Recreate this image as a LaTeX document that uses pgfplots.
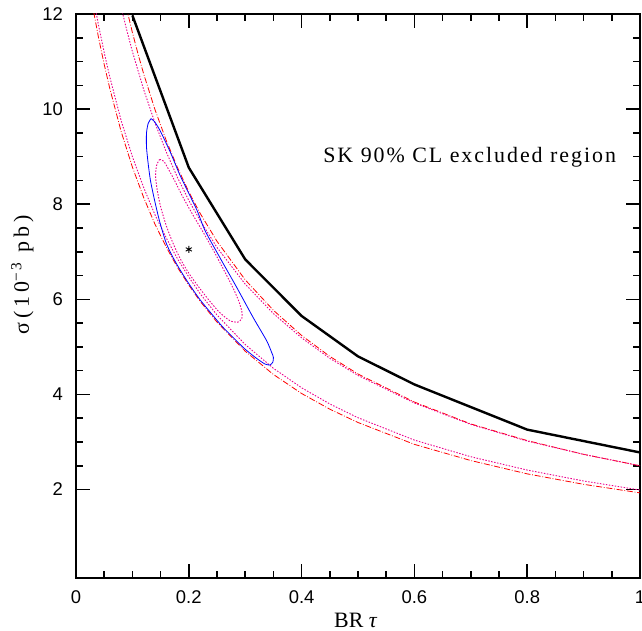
\documentclass[border=0pt]{standalone}
\usepackage{fontspec}
\setmainfont{Liberation Serif}
\newfontfamily\ticksans{Liberation Sans}
\usepackage{pgfplots}
\pgfplotsset{compat=1.18}

% upper and lower bands: red = dash-dot, magenta = dotted
\pgfplotstableread{
x      y
0.085  12.36
0.09   12.10
0.10   11.61
0.11   11.16
0.12   10.74
0.14   9.99
0.16   9.34
0.18   8.77
0.20   8.26
0.22   7.81
0.25   7.22
0.30   6.41
0.35   5.77
0.40   5.24
0.45   4.80
0.50   4.43
0.60   3.84
0.70   3.38
0.80   3.03
0.90   2.74
1.00   2.50
}\redup
\pgfplotstableread{
x      y
0.075  12.41
0.08   12.15
0.09   11.66
0.10   11.21
0.12   10.41
0.14   9.71
0.16   9.10
0.18   8.56
0.20   8.08
0.22   7.66
0.25   7.09
0.30   6.32
0.35   5.70
0.40   5.19
0.45   4.76
0.50   4.40
0.60   3.82
0.70   3.37
0.80   3.02
0.90   2.74
1.00   2.50
}\magup
\pgfplotstableread{
x      y
0.025  12.47
0.03   12.13
0.04   11.50
0.05   10.94
0.06   10.43
0.08   9.53
0.10   8.78
0.12   8.14
0.14   7.58
0.16   7.10
0.18   6.67
0.20   6.30
0.22   5.96
0.25   5.52
0.30   4.91
0.35   4.42
0.40   4.02
0.45   3.69
0.50   3.41
0.60   2.95
0.70   2.61
0.80   2.33
0.90   2.11
1.00   1.93
}\redlo
\pgfplotstableread{
x      y
0.03   12.39
0.035  12.07
0.04   11.76
0.05   11.19
0.06   10.67
0.08   9.76
0.10   9.00
0.12   8.35
0.14   7.78
0.16   7.29
0.18   6.85
0.20   6.47
0.22   6.12
0.25   5.67
0.30   5.05
0.35   4.55
0.40   4.14
0.45   3.80
0.50   3.51
0.60   3.04
0.70   2.69
0.80   2.41
0.90   2.18
1.00   1.99
}\maglo

\begin{document}
\begin{tikzpicture}
\useasboundingbox (-76bp,-53bp) rectangle (566bp,578bp);
\begin{axis}[
  scale only axis,
  width=564bp, height=564bp,
  xmin=0, xmax=1, ymin=0.14, ymax=12,
  xtick={0,0.2,...,1}, minor x tick num=3,
  ytick={2,4,...,12}, minor y tick num=3,
  tick align=inside,
  axis line style={line width=2.5bp},
  every tick/.style={black, line width=1.5bp},
  major tick length=14bp, minor tick length=7bp,
  xtick pos=both, ytick pos=both,
  /pgf/number format/assume math mode=true,
  ticklabel style={font=\ticksans\fontsize{18.5}{18.5}\selectfont, inner sep=0pt},
  xticklabel style={anchor=north, yshift=-12.5bp},
  yticklabel style={anchor=east, xshift=-13bp},
  xlabel={BR \textit{τ}},
  ylabel={\addfontfeature{LetterSpace=18}σ(10\textsuperscript{−3} pb)},
  label style={font=\fontsize{22}{22}\selectfont},
  x label style={at={(axis description cs:0.496,-0.0745)}, anchor=center},
  y label style={at={(axis description cs:-0.095,0.537)}, anchor=center},
]
% SK excluded region boundary
\addplot[black, line width=2.4bp] coordinates {
  (0.1,11.97) (0.2,8.77) (0.3,6.84) (0.4,5.65) (0.5,4.80)
  (0.6,4.21) (0.8,3.26) (1.0,2.78)
};
\addplot[red, line width=0.8bp, dash pattern=on 6bp off 1.8bp on 0.8bp off 1.8bp] table {\redup};
\addplot[red, line width=0.8bp, dash pattern=on 6bp off 1.8bp on 0.8bp off 1.8bp] table {\redlo};
\addplot[magenta, line width=0.9bp, dash pattern=on 1.5bp off 1.5bp] table {\magup};
\addplot[magenta, line width=0.9bp, dash pattern=on 1.5bp off 1.5bp] table {\maglo};
% allowed region contours
\addplot[blue, line width=0.8bp, smooth, tension=0.4] coordinates {
  (0.133,9.80) (0.128,9.70) (0.125,9.50) (0.125,9.20) (0.128,8.85)
  (0.132,8.50) (0.139,8.10) (0.148,7.65) (0.160,7.18) (0.172,6.88)
  (0.184,6.63) (0.200,6.33) (0.220,5.99) (0.240,5.70) (0.260,5.42)
  (0.280,5.18) (0.300,4.95) (0.320,4.76) (0.335,4.64) (0.344,4.62)
  (0.349,4.68) (0.350,4.78) (0.347,4.88) (0.338,5.13) (0.314,5.62)
  (0.285,6.25) (0.255,6.88) (0.229,7.44) (0.215,7.86) (0.202,8.18)
  (0.184,8.62) (0.167,9.10) (0.149,9.55) (0.139,9.74) (0.133,9.80)
};
\addplot[magenta, line width=0.9bp, dash pattern=on 1.5bp off 1.5bp, smooth, tension=0.4] coordinates {
  (0.148,8.94) (0.156,8.90) (0.172,8.56) (0.190,8.14) (0.208,7.76)
  (0.225,7.42) (0.245,7.00) (0.262,6.62) (0.278,6.25) (0.288,5.98)
  (0.294,5.75) (0.294,5.60) (0.287,5.52) (0.273,5.55) (0.255,5.72)
  (0.238,5.95) (0.220,6.22) (0.200,6.55) (0.185,6.85) (0.172,7.18)
  (0.160,7.55) (0.150,7.95) (0.144,8.30) (0.141,8.60) (0.143,8.82)
  (0.148,8.94)
};
% best fit point
\addplot[only marks, mark=asterisk, mark size=3.5bp, black, mark options={line width=0.9bp}] coordinates {(0.2,7.05)};
\node[anchor=base, font=\fontsize{22}{22}\selectfont\addfontfeature{LetterSpace=9}]
  at (axis cs:0.698,8.88) {SK 90\% CL excluded region};
\end{axis}
\end{tikzpicture}
\end{document}
